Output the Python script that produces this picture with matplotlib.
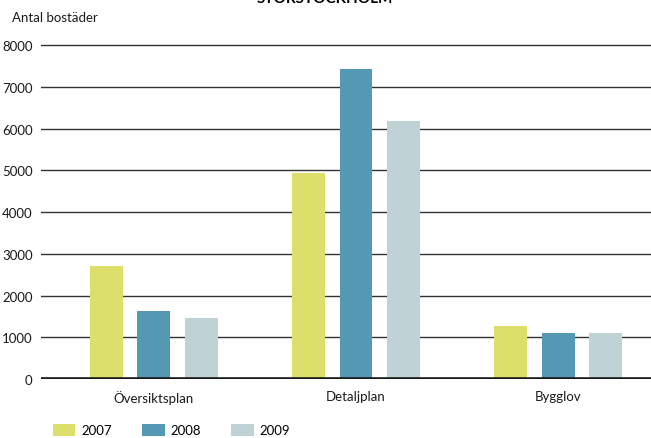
import matplotlib.pyplot as plt
import numpy as np

categories = ["Översiktsplan", "Detaljplan", "Bygglov"]
years = ["2007", "2008", "2009"]
values_2007 = [2700, 4940, 1270]
values_2008 = [1630, 7425, 1100]
values_2009 = [1460, 6180, 1100]
yticks = [0, 1000, 2000, 3000, 4000, 5000, 6000, 7000, 8000]
colors = ["#dce06a", "#5498b3", "#bfd2d5"]

plt.rcParams['font.family'] = ['Lato', 'DejaVu Sans']

fig = plt.figure(figsize=(6.51, 4.39), dpi=100)
W, H = 651, 439
ax = fig.add_axes([41 / W, 1 - 380 / H, 1 - 41 / W, (380 - 44) / H])

x = np.arange(len(categories))
width = 0.163
offset = 0.2346
series = [values_2007, values_2008, values_2009]
bars = []
for i, (vals, col) in enumerate(zip(series, colors)):
    b = ax.bar(x + (i - 1) * offset, vals, width, color=col, zorder=2)
    bars.append(b)

ax.set_xlim(-0.558, 2.459)
ax.set_ylim(0, 8050)
for s in ax.spines.values():
    s.set_visible(False)

for v in yticks[1:]:
    ax.axhline(v, color="#333333", lw=1.0, zorder=1)
ax.axhline(0, color="#1a1a1a", lw=2.6, zorder=3)

ax.set_yticks(yticks)
ax.set_yticklabels([f"{v}" for v in yticks], fontsize=9.5, color="#1a1a1a")
ax.set_xticks(x)
ax.set_xticklabels(categories, fontsize=9.5, color="#1a1a1a")
ax.tick_params(axis="y", length=0, pad=6)
ax.tick_params(axis="x", length=0, pad=8)

fig.text(12 / W, 1 - 18 / H, "Antal bostäder", fontsize=9.5, va="center", ha="left", color="#1a1a1a")
fig.text(325 / W, 1 - (-1) / H, "STORSTOCKHOLM", fontsize=11, fontweight="bold", va="center", ha="center")

leg = fig.legend(bars, years, loc="lower left", bbox_to_anchor=(41 / W, -10 / H), ncol=3,
                 frameon=False, fontsize=9.5, handlelength=1.7, handleheight=1.0,
                 columnspacing=2.3, handletextpad=0.45)

fig.savefig("out.png", dpi=100)
